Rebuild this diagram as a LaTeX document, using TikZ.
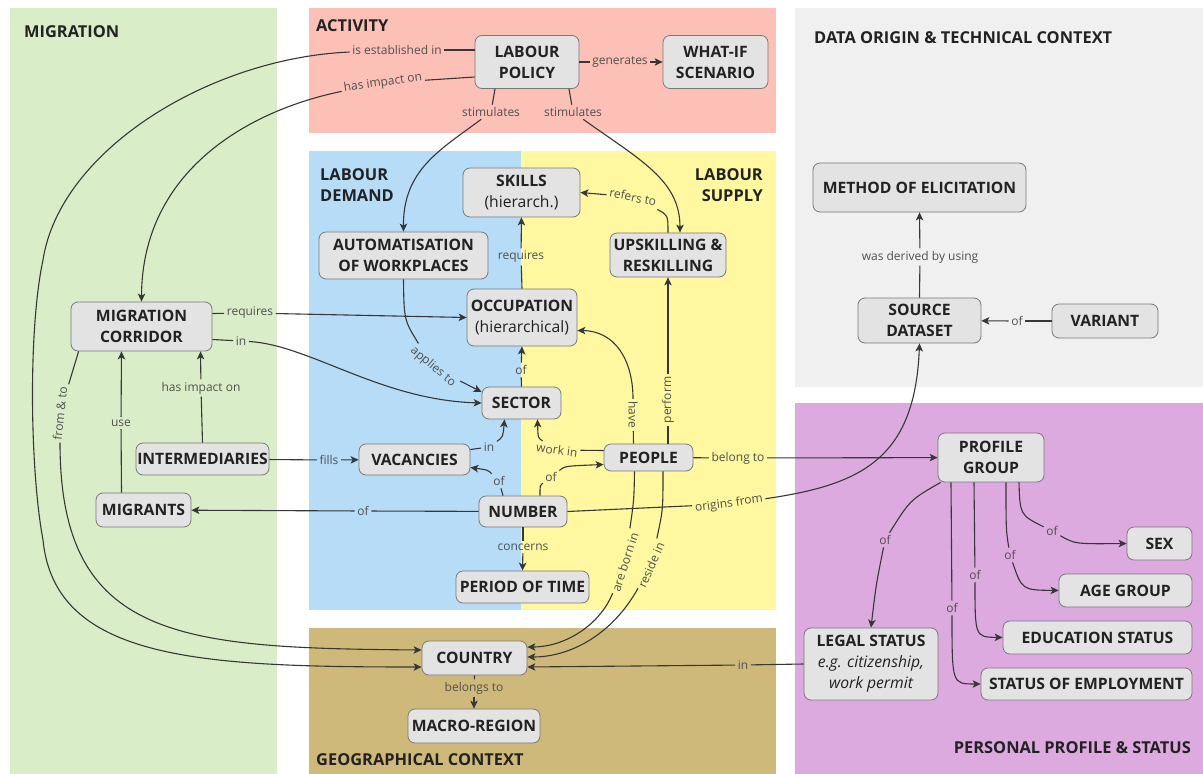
\documentclass[tikz,border=0pt]{standalone}
\usepackage{fontspec}
\setmainfont{Open Sans}
\usetikzlibrary{arrows.meta}
\definecolor{cgreen}{RGB}{217,238,200}
\definecolor{cred}{RGB}{253,192,182}
\definecolor{cblue}{RGB}{183,220,247}
\definecolor{cyellow}{RGB}{255,248,160}
\definecolor{cgrey}{RGB}{240,240,240}
\definecolor{cpink}{RGB}{220,170,222}
\definecolor{ctan}{RGB}{207,185,122}
\definecolor{boxfill}{RGB}{227,227,227}
\definecolor{boxline}{RGB}{120,120,120}
\definecolor{lncol}{RGB}{55,55,55}
\definecolor{lblcol}{RGB}{80,80,80}
\definecolor{ttl}{RGB}{34,34,34}
\tikzset{
  concept/.style={draw=boxline, fill=boxfill, rounded corners=7pt, line width=0.8pt,
    font=\fontsize{15.7}{21}\selectfont\bfseries, text=ttl, align=center, inner sep=0pt},
  lbl/.style={font=\fontsize{12}{14}\selectfont, text=lblcol, inner sep=2.5pt},
  ln/.style={draw=lncol, line width=1.1pt},
  arr/.style={ln, -{Stealth[length=8pt,width=7.5pt,inset=2pt]}},
  sect/.style={font=\fontsize{16.4}{21}\selectfont\bfseries, text=ttl, inner sep=0pt},
}
\begin{document}
\begin{tikzpicture}[x=1pt,y=-1pt]
\useasboundingbox (0,0) rectangle (1203,774);
\fill[white] (0,0) rectangle (1203,774);
% regions
\fill[cgreen] (10,8) rectangle (277,774);
\fill[cred] (309,8) rectangle (776,133);
\fill[cblue] (309,151) rectangle (521,610);
\fill[cyellow] (521,151) rectangle (776,610);
\fill[ctan] (309,628) rectangle (776,774);
\fill[cgrey] (795,8) rectangle (1203,387);
\fill[cpink] (795,403) rectangle (1203,774);
% section titles
\node[sect, anchor=west] (tmig) at (24,32) {MIGRATION};
\node[sect, anchor=west] (tact) at (316,26) {ACTIVITY};
\node[sect, anchor=west, align=left] (tdem) at (320,185.5) {LABOUR\\DEMAND};
\node[sect, anchor=east, align=right] (tsup) at (763,185.5) {LABOUR\\SUPPLY};
\node[sect, anchor=west] (tdat) at (814,38) {DATA ORIGIN \& TECHNICAL CONTEXT};
\node[sect, anchor=east] (tper) at (1191,748) {PERSONAL PROFILE \& STATUS};
\node[sect, anchor=west] (tgeo) at (316,760) {GEOGRAPHICAL CONTEXT};
% concepts
\node[concept, minimum width=104pt, minimum height=53pt] (lp) at (527,62) {LABOUR\\POLICY};
\node[concept, minimum width=105pt, minimum height=53pt] (whatif) at (715.5,62) {WHAT-IF\\SCENARIO};
\node[concept, minimum width=117pt, minimum height=49pt] (skills) at (521.5,192.5) {SKILLS\\{\mdseries (hierarch.)}};
\node[concept, minimum width=169pt, minimum height=47pt] (auto) at (403.5,255.5) {AUTOMATISATION\\OF WORKPLACES};
\node[concept, minimum width=116pt, minimum height=44pt] (upsk) at (668,255) {UPSKILLING \&\\RESKILLING};
\node[concept, minimum width=110pt, minimum height=57pt] (occ) at (522,317.5) {OCCUPATION\\{\mdseries (hierarchical)}};
\node[concept, minimum width=79pt, minimum height=32pt] (sector) at (521.5,403) {SECTOR};
\node[concept, minimum width=111pt, minimum height=31pt] (vac) at (414.5,459.5) {VACANCIES};
\node[concept, minimum width=89pt, minimum height=27pt] (people) at (648.5,457.5) {PEOPLE};
\node[concept, minimum width=88pt, minimum height=31pt] (number) at (523,511.5) {NUMBER};
\node[concept, minimum width=133pt, minimum height=32pt] (period) at (522.5,587) {PERIOD OF TIME};
\node[concept, minimum width=141pt, minimum height=49pt] (mc) at (141.5,326.5) {MIGRATION\\CORRIDOR};
\node[concept, minimum width=133pt, minimum height=32pt] (inter) at (202.5,459) {INTERMEDIARIES};
\node[concept, minimum width=95pt, minimum height=34pt] (migrants) at (143.5,510) {MIGRANTS};
\node[concept, minimum width=105pt, minimum height=34pt] (country) at (474.5,658) {COUNTRY};
\node[concept, minimum width=132pt, minimum height=34pt] (macro) at (474,726) {MACRO-REGION};
\node[concept, minimum width=213pt, minimum height=49pt] (method) at (919.5,187.5) {METHOD OF ELICITATION};
\node[concept, minimum width=123pt, minimum height=45pt] (source) at (919.5,320.5) {SOURCE\\DATASET};
\node[concept, minimum width=106pt, minimum height=34pt] (variant) at (1105,321) {VARIANT};
\node[concept, minimum width=106pt, minimum height=49pt] (profile) at (991,457.5) {PROFILE\\GROUP};
\node[concept, minimum width=65pt, minimum height=33pt] (sex) at (1159.5,543.5) {SEX};
\node[concept, minimum width=133pt, minimum height=33pt] (age) at (1125.5,590.5) {AGE GROUP};
\node[concept, minimum width=189pt, minimum height=33pt] (edu) at (1097.5,637.5) {EDUCATION STATUS};
\node[concept, minimum width=211pt, minimum height=32pt] (emp) at (1086.5,684) {STATUS OF EMPLOYMENT};
\node[concept, minimum width=134pt, minimum height=72pt] (legal) at (871,664) {LEGAL STATUS\\{\mdseries\itshape e.g. citizenship,}\\{\mdseries\itshape work permit}};
% labels and connectors
\node[lbl] (e1) at (397,50) {is established in};
\draw[ln] ([yshift=12pt]lp.west) -- (e1);
\draw[arr] (e1) .. controls (210,58) and (60,150) .. (43,260) .. controls (28,330) and (30,470) .. (43,540) .. controls (55,660) and (200,667) .. ([yshift=-9pt]country.west);
\node[lbl, rotate=8] (e2) at (383,83) {has impact on};
\draw[ln] ([yshift=-15pt]lp.west) -- (e2);
\draw[arr] (e2) .. controls (250,110) and (142,170) .. (mc.north);
\node[lbl] (e3) at (620,62) {generates};
\draw[ln] (lp) -- (e3);
\draw[arr] (e3) -- (whatif);
\node[lbl] (e4) at (491,112) {stimulates};
\draw[ln] ([xshift=-32pt]lp.south) -- (e4);
\draw[arr] (e4) .. controls (440,150) and (403,170) .. (auto.north);
\node[lbl] (e5) at (573,112) {stimulates};
\draw[ln] ([xshift=42pt]lp.south) -- (e5);
\draw[arr] (e5) .. controls (640,160) and (680,180) .. ([xshift=12pt]upsk.north);
\node[lbl, rotate=-12] (e6) at (633,197) {refers to};
\draw[ln] (upsk.north) .. controls (668,215) .. (e6);
\draw[arr] (e6) -- (skills.east);
\node[lbl] (e7) at (521,257) {requires};
\draw[ln] (occ.north) -- (e7);
\draw[arr] (e7) -- (skills.south);
\node[lbl] (e8) at (521,370) {of};
\draw[ln] (sector.north) -- (e8);
\draw[arr] (e8) -- (occ.south);
\node[lbl] (e9) at (250,313) {requires};
\draw[ln] ([yshift=13pt]mc.east) -- (e9);
\draw[arr] (e9) -- (occ.west);
\node[lbl] (e10) at (241,341) {in};
\draw[ln] ([yshift=-13pt]mc.east) -- (e10);
\draw[arr] (e10) .. controls (310,345) and (380,400) .. (sector.west);
\node[lbl, rotate=-40] (e11) at (433,367) {applies to};
\draw[ln] (auto.south) .. controls (404,320) .. (e11);
\draw[arr] (e11) -- ([yshift=11pt]sector.west);
\node[lbl] (e12) at (201,388) {has impact on};
\draw[ln] (inter.north) -- (e12);
\draw[arr] (e12) -- ([xshift=59pt]mc.south);
\node[lbl] (e13) at (121,423) {use};
\draw[ln] ([xshift=-22pt]migrants.north) -- (e13);
\draw[arr] (e13) -- ([xshift=-20pt]mc.south);
\node[lbl, rotate=84] (e36) at (60,413) {from \& to};
\draw[ln] ([xshift=8pt]mc.south west) -- (e36);
\draw[arr] (e36) .. controls (60,640) and (180,648) .. ([yshift=8pt]country.west);
\node[lbl] (e14) at (329,460) {fills};
\draw[ln] (inter) -- (e14);
\draw[arr] (e14) -- (vac);
\node[lbl] (e15) at (489,447) {in};
\draw[ln] ([yshift=10pt]vac.east) -- (e15);
\draw[arr] (e15) .. controls (503,437) .. ([xshift=-17pt]sector.south);
\node[lbl] (e16) at (499,481) {of};
\draw[ln] ([xshift=-20pt]number.north) -- (e16);
\draw[arr] (e16) .. controls (488,470) .. ([yshift=-8pt]vac.east);
\node[lbl] (e17) at (551,477) {of};
\draw[ln] ([xshift=17pt]number.north) .. controls (540,485) .. (e17);
\draw[arr] (e17) .. controls (565,466) .. ([yshift=-7pt]people.west);
\node[lbl, rotate=-7] (e18) at (557,450) {work in};
\draw[ln] ([yshift=7pt]people.west) -- (e18);
\draw[arr] (e18) .. controls (538,438) .. ([xshift=16pt]sector.south);
\node[lbl, rotate=-90] (e19) at (633,415) {have};
\draw[ln] ([xshift=-15pt]people.north) -- (e19);
\draw[arr] (e19) .. controls (633,360) and (615,331) .. ([yshift=-13pt]occ.east);
\node[lbl, rotate=90] (e20) at (668,400) {perform};
\draw[ln] ([xshift=19.5pt]people.north) -- (e20);
\draw[arr] (e20) -- (upsk.south);
\node[lbl] (e21) at (738,458) {belong to};
\draw[ln] (people) -- (e21);
\draw[arr] (e21) -- (profile);
\node[lbl] (e22) at (363,511) {of};
\draw[ln] (number) -- (e22);
\draw[arr] (e22) -- (migrants);
\node[lbl, rotate=8] (e23) at (729,504) {origins from};
\draw[ln] (number.east) -- (e23);
\draw[arr] (e23) .. controls (860,485) and (915,460) .. (source.south);
\node[lbl] (e24) at (523,547) {concerns};
\draw[ln] (number.south) -- (e24);
\draw[arr] (e24) -- (period.north);
\node[lbl, rotate=72] (e25) at (625,562) {are born in};
\draw[ln] ([xshift=-14pt]people.south) .. controls (634,500) .. (e25);
\draw[arr] (e25) .. controls (600,625) and (565,647) .. ([yshift=11pt]country.east);
\node[lbl, rotate=66] (e26) at (651,565) {reside in};
\draw[ln] ([xshift=14.5pt]people.south) .. controls (663,510) .. (e26);
\draw[arr] (e26) .. controls (612,635) and (570,657) .. ([yshift=1pt]country.east);
\node[lbl] (e27) at (743,665) {in};
\draw[ln] (legal.west) -- (e27);
\draw[arr] (e27) -- ([yshift=-9pt]country.east);
\node[lbl] (e28) at (474,688) {belongs to};
\draw[ln] (country.south) -- (e28);
\draw[arr] (e28) -- (macro.north);
\node[lbl] (e29) at (920,257) {was derived by using};
\draw[ln] (source.north) -- (e29);
\draw[arr] (e29) -- (method.south);
\node[lbl] (e30) at (1017,321) {of};
\draw[ln] (variant) -- (e30);
\draw[arr] (e30) -- (source);
\node[lbl] (e31) at (885,540) {of};
\draw[ln] ([xshift=3pt]profile.south west) .. controls (910,500) .. (e31);
\draw[arr] (e31) .. controls (876,585) .. (legal.north);
\node[lbl] (e32) at (952,608) {of};
\draw[ln] ([xshift=-40pt]profile.south) -- (e32);
\draw[arr] (e32) .. controls (952,684) .. (emp.west);
\node[lbl] (e33) at (975,575) {of};
\draw[ln] ([xshift=-17pt]profile.south) -- (e33);
\draw[arr] (e33) .. controls (975,637) .. (edu.west);
\node[lbl] (e34) at (1010,555) {of};
\draw[ln] ([xshift=15pt]profile.south) .. controls (1006,530) .. (e34);
\draw[arr] (e34) .. controls (1022,590) .. (age.west);
\node[lbl] (e35) at (1052,531) {of};
\draw[ln] ([xshift=28pt]profile.south) .. controls (1020,515) .. (e35);
\draw[arr] (e35) .. controls (1075,544) .. (sex.west);
\end{tikzpicture}
\end{document}
